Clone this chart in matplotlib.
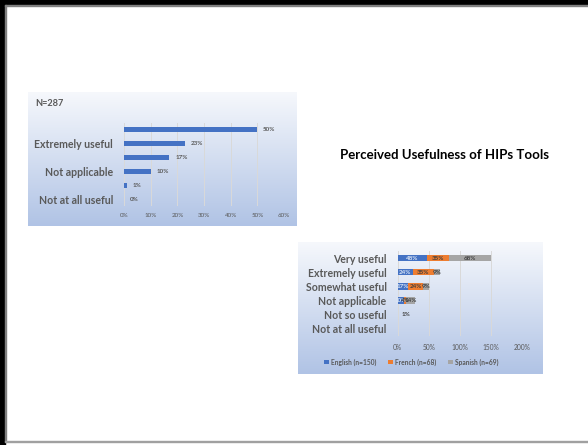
import numpy as np
import matplotlib
matplotlib.use("Agg")
import matplotlib.pyplot as plt
from matplotlib.patches import Rectangle

plt.rcParams['font.family'] = ['Lato', 'DejaVu Sans']

# overall responses (N=287)
cats = ['Very useful', 'Extremely useful', 'Somewhat useful',
        'Not applicable', 'Not so useful', 'Not at all useful']
overall = [50, 23, 17, 10, 1, 0]

# by language group
english = [48, 24, 17, 10, 0, 0]
french = [35, 35, 24, 4, 1, 0]
spanish = [68, 9, 9, 14, 0, 0]
groups = ['English (n=150)', 'French (n=68)', 'Spanish (n=69)']

BLUE = '#4472C4'
ORANGE = '#ED7D31'
GRAY = '#A5A5A5'
TXT = '#595959'
GRID = '#D9D9D9'

W, H = 588, 445
fig = plt.figure(figsize=(W / 100, H / 100), dpi=100)


def px_axes(x0, y0, x1, y1, **kw):
    # axes placed by pixel box (top-left origin)
    return fig.add_axes([x0 / W, 1 - y1 / H, (x1 - x0) / W, (y1 - y0) / H], **kw)


def panel(x0, y0, x1, y1):
    bg = px_axes(x0, y0, x1, y1)
    top = np.array([246, 248, 252]) / 255
    bot = np.array([176, 195, 229]) / 255
    t = np.linspace(0, 1, 256)[:, None]
    grad = top + (bot - top) * t
    bg.imshow(grad[:, None, :], aspect='auto', extent=[0, 1, 0, 1])
    bg.axis('off')
    return bg


def style(ax):
    for s in ax.spines.values():
        s.set_visible(False)
    ax.set_facecolor('none')
    ax.tick_params(length=0)
    ax.xaxis.grid(True, color=GRID, lw=0.7)
    ax.set_axisbelow(True)


# slide frame
fig.patches.append(Rectangle((0, 1 - 5 / H), 1, 5 / H, transform=fig.transFigure,
                             color='black', zorder=10))
fig.patches.append(Rectangle((0, 0), 5 / W, 1, transform=fig.transFigure,
                             color='black', zorder=10))
fig.patches.append(Rectangle((5 / W, 3 / H), 1.2 / W, 1 - 8 / H, transform=fig.transFigure,
                             color='#808080', zorder=10))
fig.patches.append(Rectangle((5 / W, 1 - 6.2 / H), 1 - 5 / W, 1.2 / H,
                             transform=fig.transFigure, color='#808080', zorder=10))
fig.patches.append(Rectangle((5 / W, 3 / H), 1, 1.5 / H, transform=fig.transFigure,
                             color='#a0a0a0', zorder=10))

# ---- overall chart ----
panel(28, 92, 297, 226)
fig.text(35 / W, 1 - 104 / H, 'N=287', fontsize=6.6, fontweight='bold',
         color=TXT, va='center', ha='left')
ax1 = px_axes(124, 123, 284, 206)
y = np.arange(len(cats))
ax1.barh(y, overall, height=0.36, color=BLUE)
for yi, v in zip(y, overall):
    ax1.text(v + 2.2, yi, f'{v}%', fontsize=4.5, fontweight='bold', color=TXT,
             va='center', ha='left')
ax1.set_xlim(0, 60)
ax1.set_ylim(len(cats) - 0.5, -0.5)
ax1.set_xticks(np.arange(0, 61, 10))
ax1.set_xticklabels([f'{t}%' for t in range(0, 61, 10)], fontsize=4.5, color=TXT)
ax1.set_yticks(y)
ax1.set_yticklabels([c if i % 2 else '' for i, c in enumerate(cats)],
                    fontsize=7.6, fontweight='bold', color=TXT)
style(ax1)
ax1.tick_params(axis='y', pad=8)
ax1.tick_params(axis='x', pad=5)

fig.text(445 / W, 1 - 155 / H, 'Perceived Usefulness of HIPs Tools',
         fontsize=9.5, fontweight='bold', color='black', ha='center', va='center')

# ---- by language chart ----
panel(298, 242, 543, 374)
ax2 = px_axes(397.7, 251, 521.7, 336)
left = np.zeros(len(cats))
for vals, col, name, lc in [(english, BLUE, groups[0], '#DCE6F5'),
                             (french, ORANGE, groups[1], '#404040'),
                             (spanish, GRAY, groups[2], '#404040')]:
    vals = np.array(vals)
    ax2.barh(y, vals, left=left, height=0.45, color=col, label=name)
    for yi, v, l in zip(y, vals, left):
        if v == 0:
            continue
        if v <= 2:
            ax2.text(l + v + 5, yi, f'{v}%', fontsize=4.5, fontweight='bold',
                     color='#404040', va='center', ha='left')
        else:
            ax2.text(l + v / 2, yi, f'{v}%', fontsize=4.5, fontweight='bold',
                     color=lc, va='center', ha='center')
    left = left + vals
ax2.set_xlim(0, 200)
ax2.set_ylim(len(cats) - 0.5, -0.5)
ax2.set_xticks(np.arange(0, 201, 50))
ax2.set_xticklabels([f'{t}%' for t in range(0, 201, 50)], fontsize=4.8, color=TXT)
ax2.set_yticks(y)
ax2.set_yticklabels(cats, fontsize=7.6, fontweight='bold', color=TXT)
style(ax2)
ax2.tick_params(axis='y', pad=8)
ax2.tick_params(axis='x', pad=6)
h, l = ax2.get_legend_handles_labels()
leg = fig.legend(h, l, loc='center', bbox_to_anchor=(411 / W, 1 - 362 / H),
                 ncol=3, frameon=False, handlelength=0.7, handleheight=0.7,
                 handletextpad=0.3, columnspacing=1.8,
                 prop={'size': 4.8, 'weight': 'bold'})
for t in leg.get_texts():
    t.set_color(TXT)

fig.savefig('out.png', dpi=100)
